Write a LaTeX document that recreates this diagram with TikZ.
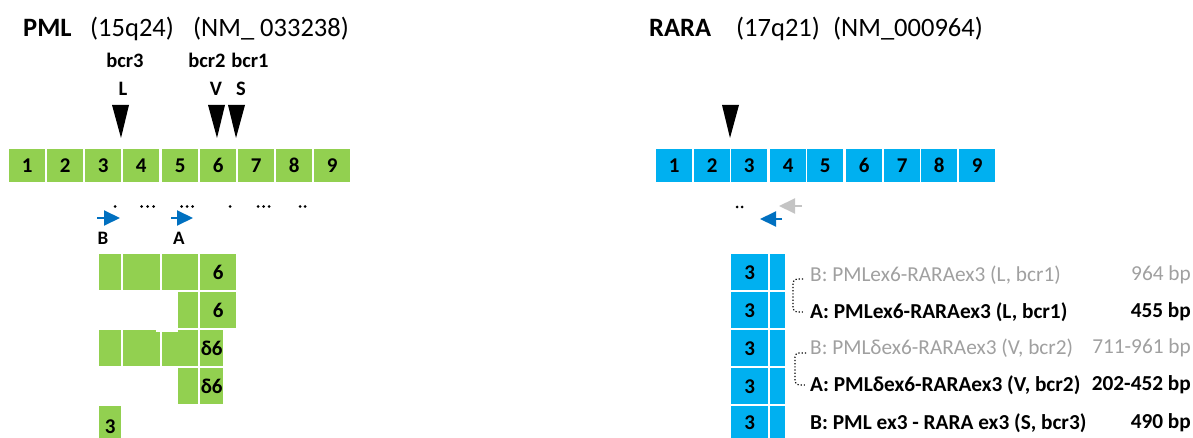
\documentclass[tikz,border=0pt]{standalone}
\usepackage{fontspec}
\setmainfont{Carlito}
\usetikzlibrary{arrows.meta}
\definecolor{pmlgreen}{HTML}{92D050}
\definecolor{rarablue}{HTML}{00B0F0}
\definecolor{primerblue}{HTML}{0070C0}
\definecolor{primergray}{HTML}{C4C4C4}
\definecolor{labgray}{HTML}{A0A0A0}
\newcommand\titlefont{\fontsize{26.5}{26.5}\selectfont}
\newcommand\exonfont{\fontsize{21}{21}\selectfont\bfseries}
\newcommand\bcrfont{\fontsize{20.5}{20.5}\selectfont\bfseries}
\newcommand\labfont{\fontsize{21.3}{21.3}\selectfont}
\begin{document}
\begin{tikzpicture}[x=1pt,y=-1pt,
  exon/.style={rectangle, fill=#1, inner sep=0pt, anchor=north west, font=\exonfont},
  title/.style={anchor=base west, inner sep=0pt, font=\titlefont},
  bcr/.style={anchor=base, inner sep=0pt, font=\bcrfont},
  bkpt/.style={fill=black},
  primer/.style={line width=2pt, -{Triangle[length=16pt,width=15pt]}, draw=#1},
  dotm/.style={fill=black},
  lab/.style={anchor=west, inner sep=0pt, font=\labfont},
  bp/.style={anchor=east, inner sep=0pt, font=\labfont},
  bracket/.style={dotted, line width=1.2pt, rounded corners=4pt}]
\useasboundingbox (0,0) rectangle (1193,438);

% ---------- PML ----------
\node[title, font=\titlefont\bfseries] (pmlt) at (23,37) {PML};
\node[title] (pmlloc) at (90,37) {(15q24)};
\node[title] (pmlnm) at (193,37) {(NM\_ 033238)};

\node[bcr] (bcr3) at (125,68) {bcr3};
\node[bcr] (bcr2) at (207,68) {bcr2};
\node[bcr] (bcr1) at (250,68) {bcr1};
\node[bcr] (bkL) at (123,96) {L};
\node[bcr] (bkV) at (216,96) {V};
\node[bcr] (bkS) at (241,96) {S};

\fill[bkpt] (112,105) -- (129,105) -- (121,138) -- cycle;
\fill[bkpt] (208,105) -- (225,105) -- (217,138) -- cycle;
\fill[bkpt] (228,105) -- (245,105) -- (236,138) -- cycle;

\foreach \n/\x in {1/9,2/47,3/85,4/123,5/162,6/200,7/238,8/276,9/314}
  \node[exon=pmlgreen, minimum width=36pt, minimum height=33pt] (p\n) at (\x,149) {\n};

% intron dots
\foreach \x in {115, 141.5,147.5,153.5, 181.5,187,192.5, 230, 258,263.5,269, 300,305}
  \fill[dotm] (\x,206.5) circle (1.5pt);

% primers
\coordinate (pBs) at (97,218);  \coordinate (pBe) at (120,218);
\coordinate (pAs) at (171,218); \coordinate (pAe) at (193,218);
\draw[primer=primerblue] (pBs) -- (pBe);
\draw[primer=primerblue] (pAs) -- (pAe);
\node[bcr, font=\fontsize{19}{19}\selectfont\bfseries] (primB) at (103,244) {B};
\node[bcr, font=\fontsize{19}{19}\selectfont\bfseries] (primA) at (179,244) {A};

% fusion rows (PML part)
\node[exon=pmlgreen, minimum width=22pt, minimum height=36pt] (r1a) at (99,254) {};
\node[exon=pmlgreen, minimum width=37pt, minimum height=36pt] (r1b) at (123,254) {};
\node[exon=pmlgreen, minimum width=36pt, minimum height=36pt] (r1c) at (162,254) {};
\node[exon=pmlgreen, minimum width=36pt, minimum height=36pt] (r1d) at (200,254) {6};

\node[exon=pmlgreen, minimum width=20pt, minimum height=36pt] (r2c) at (178,292) {};
\node[exon=pmlgreen, minimum width=36pt, minimum height=36pt] (r2d) at (200,292) {6};

\node[exon=pmlgreen, minimum width=22pt, minimum height=36pt] (r3a) at (99,330) {};
\node[exon=pmlgreen, minimum width=37pt, minimum height=36pt] (r3b) at (123,330) {};
\node[exon=pmlgreen, minimum width=36pt, minimum height=36pt] (r3c) at (162,330) {};
\fill[white] (156,330) rectangle (178,332);
\node[exon=pmlgreen, minimum width=23pt, minimum height=36pt] (r3d) at (200,330) {δ6};

\node[exon=pmlgreen, minimum width=20pt, minimum height=36pt] (r4c) at (178,368) {};
\node[exon=pmlgreen, minimum width=23pt, minimum height=36pt] (r4d) at (200,368) {δ6};

\node[exon=pmlgreen, minimum width=22pt, minimum height=32pt, text height=22pt, text depth=0pt] (r5a) at (99,406) {3};

% ---------- RARA ----------
\node[title, font=\titlefont\bfseries] (rarat) at (649,37) {RARA};
\node[title] (raraloc) at (736,37) {(17q21)};
\node[title] (raranm) at (833,37) {(NM\_000964)};

\fill[bkpt] (722,105) -- (739,105) -- (730,138) -- cycle;

\foreach \n/\x in {1/656,2/694,3/731,4/770,5/807,6/846,7/884,8/921,9/959}
  \node[exon=rarablue, minimum width=36pt, minimum height=33pt] (q\n) at (\x,149) {\n};

\fill[dotm] (737,207) circle (1.5pt);
\fill[dotm] (742,207) circle (1.5pt);

\coordinate (rGs) at (802,206); \coordinate (rGe) at (779,206);
\coordinate (rBs) at (782,219); \coordinate (rBe) at (760,219);
\draw[primer=primergray] (rGs) -- (rGe);
\draw[primer=primerblue] (rBs) -- (rBe);

\foreach \i/\y/\h in {1/254/36,2/292/36,3/330/36,4/368/36,5/406/32} {
  \node[exon=rarablue, minimum width=37pt, minimum height=\h pt] (b\i) at (731,\y) {3};
  \node[exon=rarablue, minimum width=15pt, minimum height=\h pt] (c\i) at (770,\y) {};
}

% labels
\node[lab, text=labgray] (l1) at (810,275) {B: PMLex6-RARAex3 (L, bcr1)};
\node[bp, text=labgray] (bp1) at (1191,275) {964 bp};
\node[lab, font=\labfont\bfseries] (l2) at (810,312) {A: PMLex6-RARAex3 (L, bcr1)};
\node[bp, font=\labfont\bfseries] (bp2) at (1191,312) {455 bp};
\node[lab, text=labgray] (l3) at (810,348) {B: PMLδex6-RARAex3 (V, bcr2)};
\node[bp, text=labgray] (bp3) at (1191,348) {711-961 bp};
\node[lab, font=\labfont\bfseries] (l4) at (810,385) {A: PMLδex6-RARAex3 (V, bcr2)};
\node[bp, font=\labfont\bfseries] (bp4) at (1191,385) {202-452 bp};
\node[lab, font=\labfont\bfseries] (l5) at (810,423) {B: PML ex3 - RARA ex3 (S, bcr3)};
\node[bp, font=\labfont\bfseries] (bp5) at (1191,423) {490 bp};

\draw[bracket] ([xshift=-7pt,yshift=-4pt]l1.west) -- ++(-10,0) |- ([xshift=-7pt]l2.west);
\draw[bracket] ([xshift=-4pt,yshift=-5pt]l3.west) -- ++(-11,0) |- ([xshift=-4pt]l4.west);
\end{tikzpicture}
\end{document}
